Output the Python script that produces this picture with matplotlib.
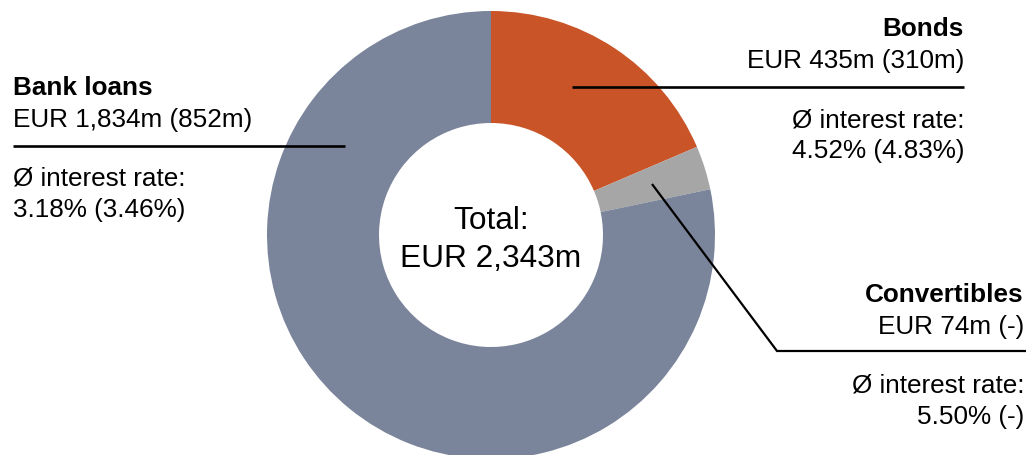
import matplotlib
matplotlib.use('Agg')
import matplotlib.pyplot as plt

# financing structure
categories = ['Bonds', 'Convertibles', 'Bank loans']
amounts = [435, 74, 1834]            # EUR m
amounts_prev = ['310m', '-', '852m']
rates = ['4.52%', '5.50%', '3.18%']
rates_prev = ['4.83%', '-', '3.46%']
colors = ['#C95428', '#A6A6A6', '#7A849A']

W, H = 1029, 456
plt.rcParams['font.family'] = ['Liberation Sans', 'DejaVu Sans']

fig = plt.figure(figsize=(W / 100, H / 100), dpi=100)
ax = fig.add_axes([0, 0, 1, 1])


def Y(py):
    # pixel row (from top) to data y
    return H - py


cx, cy, r = 491, Y(236), 224
ax.pie(amounts, colors=colors, startangle=90, counterclock=False,
       center=(cx, cy), radius=r, wedgeprops=dict(width=r / 2, linewidth=0))
ax.set_xlim(0, W)
ax.set_ylim(0, H)
ax.set_aspect('equal')
ax.axis('off')

total = sum(amounts)
ax.text(cx, Y(229), 'Total:', ha='center', va='baseline', fontsize=22.8)
ax.text(cx, Y(267), 'EUR {:,}m'.format(total), ha='center', va='baseline', fontsize=22.8)

fs = 18.8
lw = 1.9


def label(i, x, ha, y0):
    # y0: baseline of the bold title (pixels from top)
    ax.text(x, Y(y0), categories[i], ha=ha, va='baseline', fontsize=fs, fontweight='bold')
    ax.text(x, Y(y0 + 32), 'EUR {:,}m ({})'.format(amounts[i], amounts_prev[i]),
            ha=ha, va='baseline', fontsize=fs)
    ax.text(x, Y(y0 + 91), '\u00d8 interest rate:', ha=ha, va='baseline', fontsize=fs)
    ax.text(x, Y(y0 + 122), '{} ({})'.format(rates[i], rates_prev[i]),
            ha=ha, va='baseline', fontsize=fs)


# bank loans (left)
label(2, 13, 'left', 95)
ax.plot([13, 345], [Y(147), Y(147)], color='black', lw=lw, solid_capstyle='butt')

# bonds (right, top)
label(0, 964, 'right', 36)
ax.plot([572, 964], [Y(88), Y(88)], color='black', lw=lw, solid_capstyle='butt')

# convertibles (right, bottom)
label(1, 1024, 'right', 302)
ax.plot([652, 777, 1026], [Y(185), Y(352), Y(352)], color='black', lw=1.6,
        solid_capstyle='butt', solid_joinstyle='miter')

fig.savefig('out.png', dpi=100)
